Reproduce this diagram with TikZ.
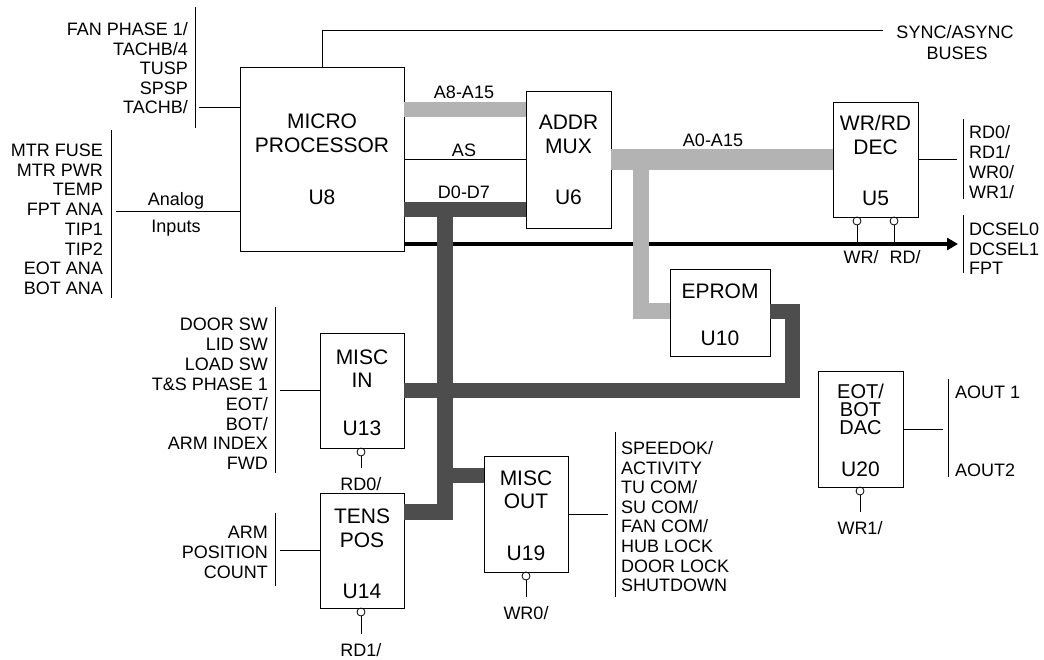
\documentclass[tikz,border=0pt]{standalone}
\usepackage{fontspec}
\setmainfont{Liberation Sans}
\usetikzlibrary{arrows.meta}
\definecolor{addrgray}{HTML}{B3B3B3}
\definecolor{datagray}{HTML}{4D4D4D}
\tikzset{chip/.style={draw,line width=.9pt,inner sep=0pt},
  chiptext/.style={font=\fontsize{21}{23.5}\selectfont,align=center,inner sep=0pt},
  sig/.style={font=\fontsize{18}{19.7}\selectfont,inner sep=0pt},
  bubble/.style={draw,circle,line width=.8pt,minimum size=8pt,inner sep=0pt},
  wire/.style={line width=.9pt},
  addrbus/.style={line width=15pt,draw=addrgray},
  databus/.style={line width=15pt,draw=datagray},
  selbus/.style={line width=4pt,-{Triangle[length=11pt,width=12pt]}}}
\begin{document}
\begin{tikzpicture}[x=1pt,y=-1pt]
\useasboundingbox (0,0) rectangle (1044,659);
% chips
\node[chip,minimum width=164pt,minimum height=184pt] (mp) at (322,159) {};
\node[chiptext] (mpname) at (322,133.5) {MICRO\\PROCESSOR};
\node[chiptext] (mpnum) at (322,197) {U8};
\node[chip,minimum width=85pt,minimum height=137pt] (mux) at (568.5,159.5) {};
\node[chiptext] (muxname) at (568.5,134.5) {ADDR\\MUX};
\node[chiptext] (muxnum) at (568.5,197) {U6};
\node[chip,minimum width=85pt,minimum height=115pt] (dec) at (875.5,159.5) {};
\node[chiptext] (decname) at (875.5,135) {WR/RD\\DEC};
\node[chiptext] (decnum) at (875.5,198) {U5};
\node[chip,minimum width=100pt,minimum height=87pt] (eprom) at (720,312.5) {};
\node[chiptext] (epromname) at (720,291) {EPROM};
\node[chiptext] (epromnum) at (720,338) {U10};
\node[chip,minimum width=84pt,minimum height=115pt] (miscin) at (362,390.5) {};
\node[chiptext] (miscinname) at (362,368.5) {MISC\\IN};
\node[chiptext] (miscinnum) at (362,428) {U13};
\node[chip,minimum width=84pt,minimum height=115pt] (tens) at (362,550.5) {};
\node[chiptext] (tensname) at (362,528.5) {TENS\\POS};
\node[chiptext] (tensnum) at (362,591) {U14};
\node[chip,minimum width=84pt,minimum height=116pt] (miscout) at (526,514) {};
\node[chiptext] (miscoutname) at (526,490) {MISC\\OUT};
\node[chiptext] (miscoutnum) at (526,553) {U19};
\node[chip,minimum width=85pt,minimum height=116pt] (dac) at (860.5,429) {};
\node[chiptext,font=\fontsize{20}{18.2}\selectfont] (dacname) at (860.5,409.5) {EOT/\\BOT\\DAC};
\node[chiptext] (dacnum) at (860.5,469) {U20};

% signal lists
\foreach \txt [count=\i] in {FAN PHASE 1/,TACHB/4,TUSP,SPSP,TACHB/}
  \node[sig,anchor=base east] (fan\i) at (188,16+19.5*\i) {\txt};
\foreach \txt [count=\i] in {MTR FUSE,MTR PWR,TEMP,FPT ANA,TIP1,TIP2,EOT ANA,BOT ANA}
  \node[sig,anchor=base east] (ana\i) at (103,136.8+19.7*\i) {\txt};
\foreach \txt [count=\i] in {DOOR SW,LID SW,LOAD SW,T\&S PHASE 1,EOT/,BOT/,ARM INDEX,FWD}
  \node[sig,anchor=base east] (sw\i) at (268,310.6+19.9*\i) {\txt};
\foreach \txt [count=\i] in {ARM,POSITION,COUNT}
  \node[sig,anchor=base east] (arm\i) at (268,518.5+20*\i) {\txt};
\foreach \txt [count=\i] in {SPEEDOK/,ACTIVITY,TU COM/,SU COM/,FAN COM/,HUB LOCK,DOOR LOCK,SHUTDOWN}
  \node[sig,anchor=base west] (out\i) at (621,434.9+19.6*\i) {\txt};
\foreach \txt [count=\i] in {RD0/,RD1/,WR0/,WR1/}
  \node[sig,anchor=base west] (strobe\i) at (969,118.5+20*\i) {\txt};
\foreach \txt [count=\i] in {DCSEL0,DCSEL1,FPT}
  \node[sig,anchor=base west] (dcsel\i) at (969,216+19.5*\i) {\txt};
\node[sig,anchor=base west] (aout1) at (955,398.5) {AOUT 1};
\node[sig,anchor=base west] (aout2) at (955,476.5) {AOUT2};
\node[sig,anchor=base] (analog) at (176,205.5) {Analog};
\node[sig,anchor=base] (inputs) at (176,232.5) {Inputs};
\node[sig,anchor=base] (sync) at (955,38.5) {SYNC/ASYNC};
\node[sig,anchor=base] (buses) at (957,59.5) {BUSES};
\node[sig,anchor=base] (a8lbl) at (464,98.5) {A8-A15};
\node[sig,anchor=base] (aslbl) at (464,156.5) {AS};
\node[sig,anchor=base] (dlbl) at (464,198.5) {D0-D7};
\node[sig,anchor=base] (a0lbl) at (713,146.5) {A0-A15};
\node[sig,anchor=base] (wrlbl) at (861,263.5) {WR/};
\node[sig,anchor=base] (rdlbl) at (905,263.5) {RD/};
\node[sig,anchor=base] (rd0) at (361,490.5) {RD0/};
\node[sig,anchor=base] (rd1) at (361,656.5) {RD1/};
\node[sig,anchor=base] (wr0) at (526,619.5) {WR0/};
\node[sig,anchor=base] (wr1) at (860,534.5) {WR1/};

% select bubbles
\node[bubble] (wrb) at (857,221) {};
\node[bubble] (rdb) at (894,221) {};
\node[bubble] (b13) at (361,452) {};
\node[bubble] (b14) at (361,612) {};
\node[bubble] (b19) at (526,576) {};
\node[bubble] (b20) at (860,491) {};

\coordinate (syncend) at (883,30);
\coordinate (fanbar) at (199,107);
\coordinate (anabar) at (116,211);
\coordinate (dcend) at (958,244);
\coordinate (dtap) at (445,209);
\coordinate (dturn) at (445,512);
\coordinate (outtap) at (445,475);
\coordinate (atap) at (641,159);
\coordinate (aturn) at (641,311);
\coordinate (romturn) at (792,311);
\coordinate (inturn) at (792,390.5);

% wires and bars
\draw[wire] (mp.north) -- (mp.north |- syncend) -- (syncend);
\draw[wire] (195,7) -- (195,128);
\draw[wire] (fanbar) -- (mp.west |- fanbar);
\draw[wire] (111,130) -- (111,298);
\draw[wire] (anabar) -- (mp.west |- anabar);
\draw[wire] (mp.east |- 0,159) -- (mux.west |- 0,159);
\draw[wire] (dec.east) -- (957,159.5);
\draw[wire] (963,119) -- (963,199);
\draw[wire] (963,215) -- (963,273);
\draw[wire] (miscin.west) -- (280,390.5);
\draw[wire] (275,307) -- (275,473);
\draw[wire] (tens.west) -- (280,550.5);
\draw[wire] (275,513) -- (275,586);
\draw[wire] (miscout.east) -- (608,514);
\draw[wire] (615,432) -- (615,597);
\draw[wire] (dac.east) -- (943,429);
\draw[wire] (948,379) -- (948,477);
\draw[wire] (wrb) -- (wrb |- dcend);
\draw[wire] (rdb) -- (rdb |- dcend);
\draw[wire,shorten >=9.5pt] (b13) -- (rd0);
\draw[wire,shorten >=9.5pt] (b14) -- (rd1);
\draw[wire,shorten >=9.5pt] (b19) -- (wr0);
\draw[wire,shorten >=9.5pt] (b20) -- (wr1);
\draw[selbus] (mp.east |- dcend) -- (dcend);

% buses
\draw[addrbus] (mp.east |- 0,109) -- (mux.west |- 0,109);
\draw[addrbus,line width=21pt] (mux.east |- atap) -- (dec.west |- atap);
\draw[addrbus,line width=16pt] (atap) -- (aturn) -- (eprom.west |- aturn);
\draw[databus] (mp.east |- dtap) -- (mux.west |- dtap);
\draw[databus,line width=16pt] (dtap) -- (dturn) -- (tens.east |- dturn);
\draw[databus] (outtap) -- (miscout.west |- outtap);
\draw[databus] (eprom.east |- romturn) -- (romturn) -- (inturn) -- (miscin.east);
\end{tikzpicture}
\end{document}
